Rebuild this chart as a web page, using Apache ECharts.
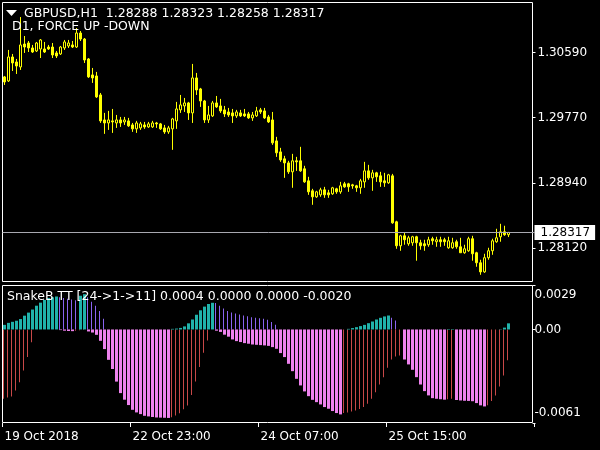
<!DOCTYPE html>
<html><head><meta charset="utf-8">
<style>html,body{margin:0;padding:0;background:#000}#c{width:600px;height:450px}</style>
<script src="https://cdn.jsdelivr.net/npm/echarts/dist/echarts.min.js"></script>
</head><body><div id="c"></div>
<script>
const symbolName = 'GBPUSD,H1';
const subTitle = 'D1, FORCE UP -DOWN';
const indName = 'SnakeB TT [24->1->11]';

const open = [
1.30283,1.30232,1.30535,1.30472,1.30409,1.30699,1.30712,1.30649,1.30611,1.30636,
1.30636,1.30661,1.30661,1.30586,1.30573,1.30649,1.30674,1.30687,1.30661,1.30838,
1.30762,1.30510,1.30308,1.30295,1.30055,1.29739,1.29701,1.29727,1.29701,1.29739,
1.29714,1.29727,1.29676,1.29626,1.29638,1.29676,1.29651,1.29651,1.29701,1.29689,
1.29638,1.29588,1.29626,1.29727,1.29866,1.29916,1.29954,1.29828,1.30270,1.30131,
1.29979,1.29739,1.29790,1.29954,1.29916,1.29866,1.29840,1.29828,1.29790,1.29828,
1.29815,1.29815,1.29765,1.29790,1.29866,1.29853,1.29777,1.29739,1.29474,1.29335,
1.29247,1.29196,1.29083,1.29222,1.29222,1.29121,1.28969,1.28843,1.28767,1.28792,
1.28855,1.28817,1.28805,1.28868,1.28830,1.28931,1.28931,1.28918,1.28906,1.28881,
1.28956,1.29095,1.29007,1.29070,1.29032,1.28969,1.28944,1.29032,1.28451,1.28148,
1.28274,1.28173,1.28186,1.28262,1.28186,1.28173,1.28161,1.28237,1.28199,1.28224,
1.28224,1.28123,1.28123,1.28199,1.28135,1.28060,1.28085,1.28237,1.28060,1.27933,
1.27818,1.27997,1.28085,1.28199,1.28262,1.28325,1.28288];
const close = [
1.30219,1.30535,1.30459,1.30421,1.30687,1.30661,1.30649,1.30598,1.30712,1.30750,
1.30598,1.30636,1.30560,1.30548,1.30661,1.30725,1.30712,1.30661,1.30838,1.30762,
1.30497,1.30283,1.30270,1.30030,1.29727,1.29701,1.29739,1.29714,1.29739,1.29701,
1.29739,1.29664,1.29626,1.29701,1.29689,1.29651,1.29689,1.29701,1.29689,1.29626,
1.29588,1.29638,1.29752,1.29878,1.29929,1.29954,1.29828,1.30270,1.30118,1.29979,
1.29739,1.29802,1.29954,1.29904,1.29853,1.29815,1.29802,1.29790,1.29840,1.29790,
1.29790,1.29765,1.29802,1.29853,1.29840,1.29765,1.29714,1.29449,1.29323,1.29234,
1.29196,1.29083,1.29222,1.29209,1.29095,1.28956,1.28830,1.28767,1.28830,1.28855,
1.28792,1.28792,1.28881,1.28830,1.28906,1.28893,1.28893,1.28906,1.28881,1.28969,
1.29095,1.29007,1.29070,1.29020,1.28956,1.28944,1.29045,1.28438,1.28148,1.28274,
1.28224,1.28249,1.28262,1.28186,1.28148,1.28148,1.28224,1.28211,1.28224,1.28199,
1.28199,1.28211,1.28186,1.28135,1.28060,1.28110,1.28237,1.28047,1.27933,1.27818,
1.27997,1.28085,1.28211,1.28249,1.28325,1.28287,1.28317];
const low = [
1.30181,1.30219,1.30358,1.30320,1.30371,1.30586,1.30598,1.30586,1.30598,1.30522,
1.30586,1.30624,1.30522,1.30522,1.30560,1.30624,1.30649,1.30649,1.30649,1.30737,
1.30459,1.30270,1.30207,1.30017,1.29701,1.29563,1.29613,1.29575,1.29638,1.29651,
1.29676,1.29651,1.29588,1.29575,1.29613,1.29626,1.29638,1.29638,1.29638,1.29613,
1.29563,1.29563,1.29361,1.29626,1.29828,1.29840,1.29739,1.29701,1.30055,1.29904,
1.29701,1.29701,1.29777,1.29891,1.29828,1.29777,1.29777,1.29701,1.29765,1.29777,
1.29777,1.29752,1.29727,1.29777,1.29815,1.29752,1.29701,1.29424,1.29272,1.29209,
1.29007,1.29057,1.28881,1.29095,1.29083,1.28944,1.28792,1.28666,1.28754,1.28767,
1.28754,1.28754,1.28792,1.28805,1.28805,1.28881,1.28830,1.28868,1.28830,1.28805,
1.28881,1.28982,1.28843,1.28956,1.28893,1.28893,1.28931,1.28426,1.28110,1.28085,
1.28161,1.28148,1.28148,1.27959,1.28098,1.28085,1.28135,1.28161,1.28135,1.28135,
1.28148,1.28110,1.28110,1.28110,1.28060,1.28047,1.28072,1.27959,1.27883,1.27781,
1.27806,1.27971,1.28034,1.28186,1.28199,1.28274,1.28258];
const high = [
1.30295,1.30624,1.30573,1.30510,1.31040,1.30800,1.30737,1.30687,1.30725,1.30762,
1.30725,1.30687,1.30712,1.30611,1.30674,1.30750,1.30750,1.30737,1.30901,1.30863,
1.30775,1.30522,1.30396,1.30346,1.30080,1.29828,1.29853,1.29878,1.29802,1.29777,
1.29777,1.29765,1.29701,1.29727,1.29714,1.29714,1.29714,1.29727,1.29714,1.29701,
1.29676,1.29664,1.29765,1.29967,1.30055,1.30017,1.29967,1.30447,1.30333,1.30144,
1.29992,1.29916,1.29979,1.30042,1.30005,1.29916,1.29891,1.29878,1.29866,1.29866,
1.29878,1.29840,1.29840,1.29904,1.29891,1.29891,1.29802,1.29840,1.29525,1.29386,
1.29285,1.29222,1.29310,1.29272,1.29399,1.29159,1.29020,1.28868,1.28843,1.28881,
1.28893,1.28855,1.28893,1.28881,1.28956,1.28956,1.28944,1.28931,1.28918,1.28994,
1.29209,1.29171,1.29108,1.29083,1.29083,1.29070,1.29057,1.29057,1.28464,1.28287,
1.28312,1.28274,1.28274,1.28274,1.28224,1.28224,1.28262,1.28262,1.28262,1.28262,
1.28249,1.28262,1.28249,1.28224,1.28249,1.28161,1.28262,1.28274,1.28072,1.27971,
1.28047,1.28123,1.28237,1.28363,1.28426,1.28401,1.28323];

// indicator buffers (4 buffers as in the indicator)
const upStrong = [
0.0003,0.00043,0.0005,0.00057,0.00068,0.0009,0.0011,0.0013,0.00155,0.00175,
0.00193,0.00205,0.0021,0.00215,null,null,null,null,null,0.0022,
0.0023,null,null,null,null,null,null,null,null,null,
null,null,null,null,null,null,null,null,null,null,
null,null,0.00004,0.00006,0.0001,0.0002,0.0004,0.00065,0.00096,0.00125,
0.00149,0.00166,0.00174,null,null,null,null,null,null,null,
null,null,null,null,null,null,null,null,null,null,
null,null,null,null,null,null,null,null,null,null,
null,null,null,null,null,null,0.00004,0.00009,0.00015,0.00022,
0.0003,0.00041,0.00052,0.00065,0.00076,0.00085,0.00091,null,null,null,
null,null,null,null,null,null,null,null,null,null,
null,0.00003,0.00003,null,null,null,null,null,null,null,
null,null,null,null,0.00002,0.00012,0.0004];
const upWeak = [
null,null,null,null,null,null,null,null,null,null,
null,null,null,null,0.0021,0.00205,0.002,0.00195,0.0019,null,
null,0.0021,0.0018,0.00155,0.0012,0.0007,null,null,null,null,
null,null,null,null,null,null,null,null,null,null,
null,null,null,null,null,null,null,null,null,null,
null,null,null,0.00172,0.00155,0.00136,0.0012,0.0011,0.00104,0.00098,
0.00091,0.00086,0.0008,0.00076,0.00073,0.0007,0.00063,0.00048,0.0003,null,
null,null,null,null,null,null,null,null,null,null,
null,null,null,null,null,null,null,null,null,null,
null,null,null,null,null,null,null,0.00076,0.00059,null,
null,null,null,null,null,null,null,null,null,null,
null,null,null,null,null,null,null,null,null,null,
null,null,null,null,null,null,null];
const downStrong = [
null,null,null,null,null,null,null,null,null,null,
null,null,null,null,-0.00004,-0.00008,-0.0001,-0.00011,null,null,
null,-0.00013,-0.0002,-0.00035,-0.00074,-0.00128,-0.00198,-0.00258,-0.0034,-0.00415,
-0.00458,-0.00493,-0.00524,-0.00541,-0.00552,-0.00563,-0.00567,-0.00571,-0.00574,-0.00575,
-0.00576,-0.00577,null,null,null,null,null,null,null,null,
null,null,null,-0.00008,-0.00016,-0.00034,-0.00047,-0.00065,-0.00076,-0.00082,
-0.00089,-0.00093,-0.00098,-0.001,-0.00102,-0.00104,-0.00107,-0.00115,-0.00126,-0.00154,
-0.0018,-0.00224,-0.00272,-0.00322,-0.00365,-0.00404,-0.00435,-0.00459,-0.00474,-0.00489,
-0.00506,-0.00517,-0.00532,-0.00545,-0.00554,null,null,null,null,null,
null,null,null,null,null,null,null,null,null,null,
-0.00196,-0.00228,-0.00263,-0.00311,-0.00359,-0.00402,-0.0043,-0.00448,-0.00452,-0.00455,
-0.00458,null,null,-0.0046,-0.00463,-0.00465,-0.00466,-0.00468,-0.0048,-0.00495,
-0.00502,null,null,null,null,null,null];
const downWeak = [
-0.00452,-0.00443,-0.00437,-0.00398,-0.00345,-0.00267,-0.0018,-0.00083,null,null,
null,null,null,null,null,null,null,null,-0.00008,-0.00005,
-0.00003,null,null,null,null,null,null,null,null,null,
null,null,null,null,null,null,null,null,null,null,
null,null,-0.00572,-0.00561,-0.00546,-0.0052,-0.00496,-0.00428,-0.0034,-0.00245,
-0.00152,-0.00072,null,null,null,null,null,null,null,null,
null,null,null,null,null,null,null,null,null,null,
null,null,null,null,null,null,null,null,null,null,
null,null,null,null,null,-0.00545,-0.00541,-0.00535,-0.00528,-0.00519,
-0.00506,-0.00485,-0.00452,-0.00409,-0.00359,-0.00311,-0.0025,-0.00196,-0.00176,-0.00169,
null,null,null,null,null,null,null,null,null,null,
null,-0.00455,-0.00452,null,null,null,null,null,null,null,
null,-0.00495,-0.00467,-0.0043,-0.00372,-0.003,-0.002];

const xTickIndex = [0, 32, 64, 96];
const xTickLabels = ['19 Oct 2018', '22 Oct 23:00', '24 Oct 07:00', '25 Oct 15:00'];
const priceTicks = [1.28120, 1.28940, 1.29770, 1.30590];
const indTicks = [-0.0061, 0, 0.0029];
const priceRange = [1.2769, 1.3123];
const indRange = [-0.0061, 0.0029];
const slotCount = 133; // bars + right chart shift

const FONT = 'DejaVu Sans';
const cats = Array.from({length: slotCount}, (_, i) => String(i));
const last = close.length - 1;
const f5 = v => v.toFixed(5);
const f4 = v => (v == null ? 0 : v).toFixed(4);
const headerText = symbolName + '  ' + [open[last], high[last], low[last], close[last]].map(f5).join(' ');
const indText = indName + ' ' + [upStrong[last], upWeak[last], downStrong[last], downWeak[last]].map(f4).join(' ');

const chart = echarts.init(document.getElementById('c'), null, {renderer: 'canvas'});
const gridLeft = 2.5, gridW = 532;
chart.setOption({
  backgroundColor: '#000',
  animation: false,
  textStyle: {fontFamily: FONT},
  grid: [
    {left: gridLeft, top: 2, width: gridW, height: 280, outerBoundsMode: 'none', containLabel: false},
    {left: gridLeft, top: 285, width: gridW, height: 138, outerBoundsMode: 'none', containLabel: false}
  ],
  xAxis: [
    {gridIndex: 0, type: 'category', data: cats, boundaryGap: true,
     axisLine: {show: false, onZero: false}, axisTick: {show: false}, axisLabel: {show: false}, splitLine: {show: false}},
    {gridIndex: 1, type: 'category', data: cats, boundaryGap: true, position: 'bottom',
     axisLine: {show: false, onZero: false}, splitLine: {show: false},
     axisTick: {show: true, length: 4, interval: (i) => xTickIndex.includes(i), lineStyle: {color: '#fff', width: 1}},
     axisLabel: {show: true, interval: (i) => xTickIndex.includes(i), color: '#fff', fontFamily: FONT, fontSize: 12,
       align: 'left', margin: 8,
       formatter: (v) => { const k = xTickIndex.indexOf(Number(v)); return k >= 0 ? xTickLabels[k] : ''; }}}
  ],
  yAxis: [
    {gridIndex: 0, type: 'value', position: 'right', offset: -2, min: priceRange[0], max: priceRange[1],
     splitLine: {show: false}, axisLine: {show: false},
     axisTick: {show: true, length: 3, customValues: priceTicks, lineStyle: {color: '#fff'}},
     axisLabel: {customValues: priceTicks, formatter: v => f5(v), color: '#fff', fontFamily: FONT, fontSize: 12, margin: 5}},
    {gridIndex: 1, type: 'value', position: 'right', offset: -2, min: indRange[0], max: indRange[1],
     splitLine: {show: false}, axisLine: {show: false},
     axisTick: {show: true, length: 3, customValues: indTicks, lineStyle: {color: '#fff'}},
     axisLabel: {customValues: indTicks, color: '#fff', fontFamily: FONT, fontSize: 12, margin: 2, lineHeight: 20,
       formatter: v => Math.abs(v) < 1e-12 ? '0.00' : (v > 0 ? '\n' + v.toFixed(4) : v.toFixed(4) + '\n')}}
  ],
  series: [
    {type: 'candlestick', xAxisIndex: 0, yAxisIndex: 0, barWidth: 3,
     data: open.map((o, i) => [o, close[i], low[i], high[i]]),
     itemStyle: {color: '#000', color0: '#ffff00', borderColor: '#ffff00', borderColor0: '#ffff00', borderWidth: 1}},
    {type: 'line', xAxisIndex: 0, yAxisIndex: 0, data: close, showSymbol: false, silent: true,
     lineStyle: {opacity: 0}, z: 1,
     markLine: {symbol: 'none', silent: true, animation: false, precision: 5,
       lineStyle: {color: '#a8a8b0', type: 'solid', width: 1},
       label: {position: 'end', distance: 0, formatter: p => f5(Number(p.value)), backgroundColor: '#fff', color: '#000',
         padding: [2, 5, 1, 6], fontFamily: FONT, fontSize: 12},
       data: [{yAxis: close[last]}]}},
    {type: 'bar', xAxisIndex: 1, yAxisIndex: 1, data: upWeak, barWidth: 1, barGap: '-100%', itemStyle: {color: '#8A63F0', borderWidth: 0}},
    {type: 'bar', xAxisIndex: 1, yAxisIndex: 1, data: downWeak, barWidth: 1, barGap: '-100%', itemStyle: {color: '#C84848', borderWidth: 0}},
    {type: 'bar', xAxisIndex: 1, yAxisIndex: 1, data: upStrong, barWidth: 3, barGap: '-100%', itemStyle: {color: '#20B2AA', borderWidth: 0}},
    {type: 'bar', xAxisIndex: 1, yAxisIndex: 1, data: downStrong, barWidth: 3, barGap: '-100%', itemStyle: {color: '#EE82EE', borderWidth: 0}}
  ],
  graphic: [
    {type: 'rect', silent: true, z: 1, shape: {x: 2.5, y: 2.5, width: 530, height: 279}, style: {fill: null, stroke: '#fff', lineWidth: 1}},
    {type: 'rect', silent: true, z: 1, shape: {x: 2.5, y: 285.5, width: 530, height: 137}, style: {fill: null, stroke: '#fff', lineWidth: 1}},
    {type: 'polygon', silent: true, z: 100, shape: {points: [[6, 10], [17, 10], [11.5, 16]]}, style: {fill: '#fff'}},
    {type: 'text', silent: true, z: 100, x: 24, y: 14, style: {text: headerText, fill: '#fff', font: '12.5px "DejaVu Sans"', verticalAlign: 'middle', textVerticalAlign: 'middle'}},
    {type: 'text', silent: true, z: 100, x: 12, y: 27, style: {text: subTitle, fill: '#fff', font: '12.5px "DejaVu Sans"', verticalAlign: 'middle', textVerticalAlign: 'middle'}},
    {type: 'text', silent: true, z: 100, x: 7, y: 297, style: {text: indText, fill: '#fff', font: '12.5px "DejaVu Sans"', verticalAlign: 'middle', textVerticalAlign: 'middle'}}
  ]
});
</script></body></html>
